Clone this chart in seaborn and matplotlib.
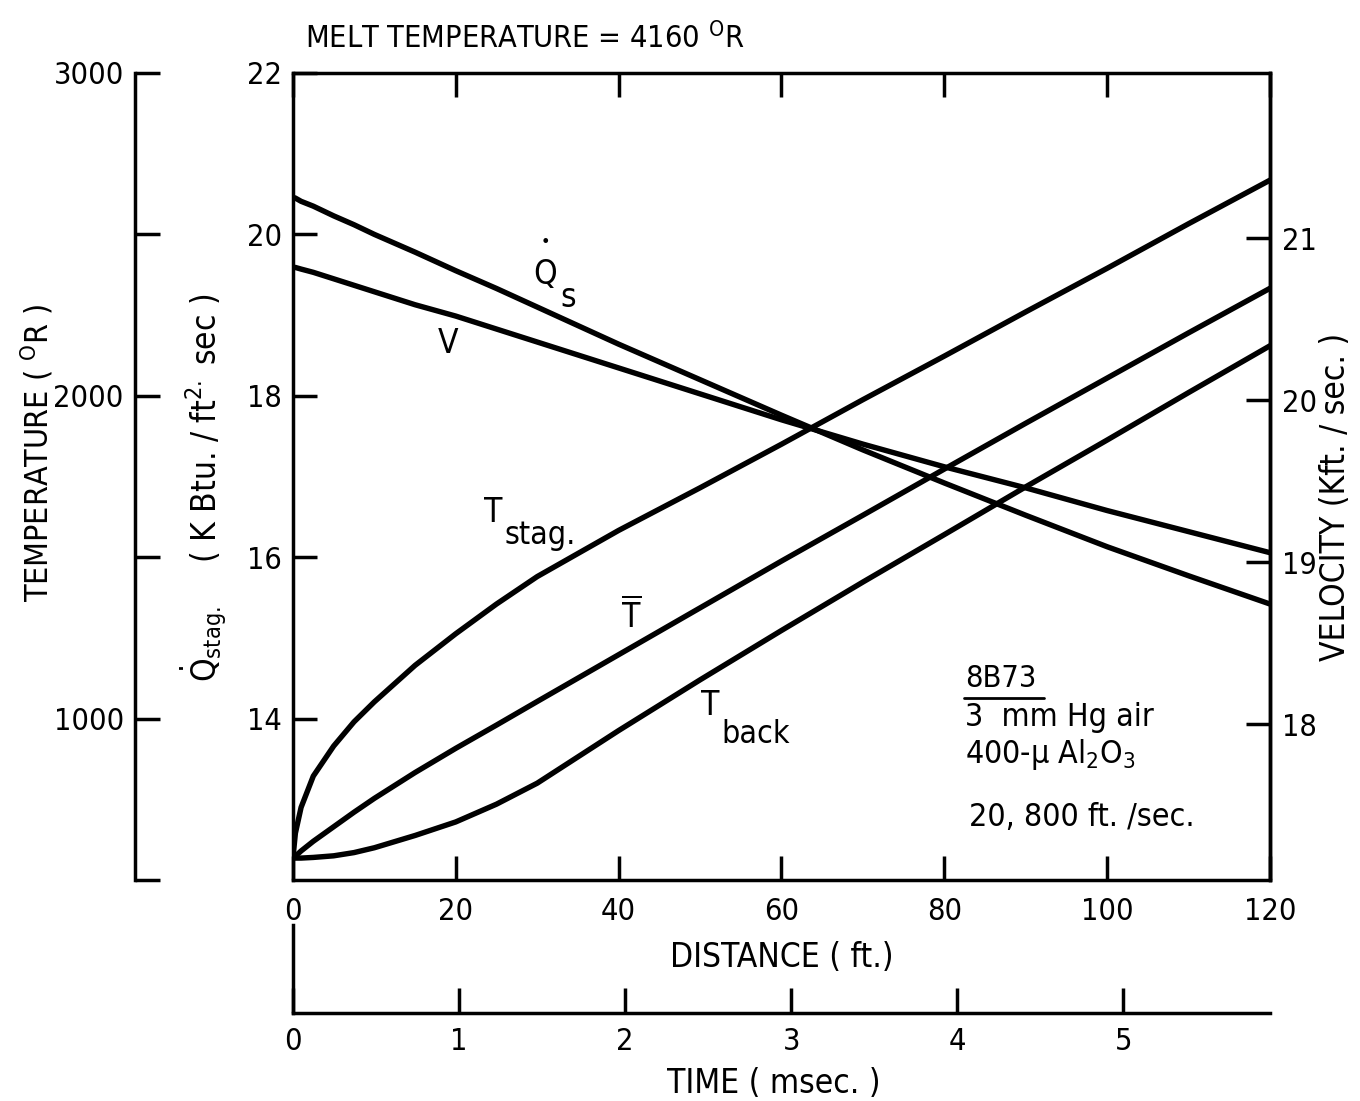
import matplotlib
matplotlib.use("Agg")
import matplotlib.pyplot as plt
import seaborn as sns
from matplotlib import font_manager

# distance along the flight path (ft)
distance = [0, 0.3, 1, 2.5, 5, 7.5, 10, 15, 20, 25, 30, 40, 50, 60, 70, 80, 90, 100, 110, 120]

# stagnation heating rate Q_s (KBtu / ft^2 sec)
q_stag = [20.46, 20.45, 20.41, 20.35, 20.23, 20.12, 20.00, 19.78, 19.55, 19.33, 19.10,
          18.64, 18.20, 17.76, 17.33, 16.92, 16.52, 16.13, 15.77, 15.42]

# velocity V (Kft / sec)
velocity = [20.82, 20.82, 20.81, 20.79, 20.75, 20.71, 20.67, 20.59, 20.52, 20.44, 20.36,
            20.20, 20.04, 19.88, 19.73, 19.59, 19.46, 19.32, 19.19, 19.06]

# temperatures (deg R)
t_stag = [568, 645, 725, 822, 915, 990, 1052, 1165, 1263, 1355, 1440,
          1583, 1715, 1850, 1988, 2123, 2260, 2395, 2533, 2668]
t_mean = [568, 574, 590, 620, 665, 710, 753, 833, 908, 980, 1053,
          1198, 1343, 1488, 1630, 1773, 1915, 2055, 2195, 2333]
t_back = [568, 568, 568, 570, 575, 585, 600, 638, 680, 735, 800,
          963, 1120, 1273, 1423, 1570, 1718, 1863, 2010, 2155]

dist_ticks = [0, 20, 40, 60, 80, 100, 120]
q_ticks = [14, 16, 18, 20, 22]
temp_ticks = [500, 1000, 1500, 2000, 2500, 3000]
temp_labels = ["", "1000", "", "2000", "", "3000"]
vel_ticks = [18, 19, 20, 21]
time_ticks = [0, 1, 2, 3, 4, 5]
ft_per_msec = 20.4

sns.set_theme(style="ticks", rc={"axes.edgecolor": "black", "xtick.color": "black",
                                 "ytick.color": "black", "text.color": "black"})
names = {f.name for f in font_manager.fontManager.ttflist}
fam = "Liberation Sans Narrow" if "Liberation Sans Narrow" in names else "DejaVu Sans"
plt.rcParams["font.family"] = [fam, "DejaVu Sans"]
plt.rcParams["font.stretch"] = "condensed"
plt.rcParams["mathtext.fontset"] = "custom"
plt.rcParams["mathtext.rm"] = fam
plt.rcParams["mathtext.it"] = fam
plt.rcParams["mathtext.bf"] = fam
fs = 24      # labels and notes
fst = 22     # tick labels

LW = 3.9
SP = 2.5
TL = 17

fig = plt.figure(figsize=(13.6, 11.01), dpi=100)
ax = fig.add_axes([0.2154, 0.2007, 0.7184, 0.733])

# heating rate on the main axis
sns.lineplot(x=distance, y=q_stag, ax=ax, color="black", lw=LW, legend=False)
ax.set_xlim(0, 120)
ax.set_ylim(12, 22)
ax.set_xticks(dist_ticks)
ax.set_yticks(q_ticks)
ax.tick_params(axis="both", direction="in", length=TL, width=SP, labelsize=fst, colors="black")
ax.tick_params(axis="x", top=True, pad=12)
ax.tick_params(axis="y", right=False, pad=8)
for s in ax.spines.values():
    s.set_linewidth(SP)
    s.set_color("black")

# temperature axis, far left
axT = ax.twinx()
for tdata in (t_stag, t_mean, t_back):
    sns.lineplot(x=distance, y=tdata, ax=axT, color="black", lw=LW, legend=False)
axT.set_ylim(500, 3000)
axT.set_ylabel("")
for k, s in axT.spines.items():
    s.set_visible(k == "left")
axT.spines["left"].set_position(("outward", 158 * 0.72))
axT.spines["left"].set_linewidth(SP)
axT.yaxis.set_ticks_position("left")
axT.set_yticks(temp_ticks)
axT.set_yticklabels(temp_labels)
axT.tick_params(axis="y", direction="in", length=18, width=SP, labelsize=fst, pad=8)

# velocity axis, right
axV = ax.twinx()
sns.lineplot(x=distance, y=velocity, ax=axV, color="black", lw=LW, legend=False)
axV.set_ylim(17.04, 22.02)
axV.set_ylabel("")
for k, s in axV.spines.items():
    s.set_visible(k == "right")
axV.spines["right"].set_linewidth(SP)
axV.set_yticks(vel_ticks)
axV.tick_params(axis="y", direction="in", length=TL, width=SP, labelsize=fst, pad=9)

# time axis below
axt = fig.add_axes([0.2154, 0.0799, 0.7184, 0.08])
axt.patch.set_visible(False)
axt.set_xlim(0, 120 / ft_per_msec)
axt.set_xticks(time_ticks)
axt.set_yticks([])
for k, s in axt.spines.items():
    s.set_visible(k in ("bottom", "left"))
    s.set_linewidth(SP)
axt.tick_params(axis="x", direction="in", length=18, width=SP, labelsize=fst, pad=10)

# curve labels
ax.text(31.0, 19.50, "Q", fontsize=fs, ha="center", va="center")
ax.text(31.0, 19.91, "\u2022", fontsize=13, ha="center", va="center")
ax.text(33.8, 19.22, "s", fontsize=fs, ha="center", va="center")
ax.text(19.0, 18.65, "V", fontsize=fs, ha="center", va="center")
ax.text(24.6, 16.55, "T", fontsize=fs, ha="center", va="center")
ax.text(26.0, 16.27, "stag.", fontsize=fs - 1, ha="left", va="center")
ax.text(41.6, 15.28, r"$\overline{\mathrm{T}}$", fontsize=fs, ha="center", va="center")
ax.text(51.2, 14.16, "T", fontsize=fs, ha="center", va="center")
ax.text(52.6, 13.80, "back", fontsize=fs - 1, ha="left", va="center")

# test condition note
ax.text(82.5, 14.50, "8B73", fontsize=fs - 2, ha="left", va="center")
ax.plot([82.4, 92.3], [14.25, 14.25], color="black", lw=2)
ax.text(82.5, 14.01, "3  mm Hg air", fontsize=fs - 1, ha="left", va="center")
ax.text(82.5, 13.55, r"400-$\mu$ Al$_2$O$_3$", fontsize=fs - 1, ha="left", va="center")
ax.text(83.0, 12.77, "20, 800 ft. /sec.", fontsize=fs - 1, ha="left", va="center")

# axis titles
fig.text(0.224, 0.965, r"MELT TEMPERATURE = 4160 $^{\mathrm{O}}$R", fontsize=fs - 2,
         ha="left", va="center")
fig.text(0.027, 0.589, r"TEMPERATURE ( $^{\mathrm{O}}$R )", fontsize=fs - 1, rotation=90,
         ha="center", va="center")
fig.text(0.150, 0.557, r"$\dot{\mathrm{Q}}_{\mathrm{stag.}}$    ( K Btu. / ft$^{2.}$ sec )",
         fontsize=fs, rotation=90, ha="center", va="center")
fig.text(0.982, 0.549, "VELOCITY (Kft. / sec. )", fontsize=fs, rotation=90, ha="center", va="center")
fig.text(0.575, 0.130, "DISTANCE ( ft.)", fontsize=fs, ha="center", va="center")
fig.text(0.569, 0.016, "TIME ( msec. )", fontsize=fs, ha="center", va="center")

fig.savefig("out.png", dpi=100)
